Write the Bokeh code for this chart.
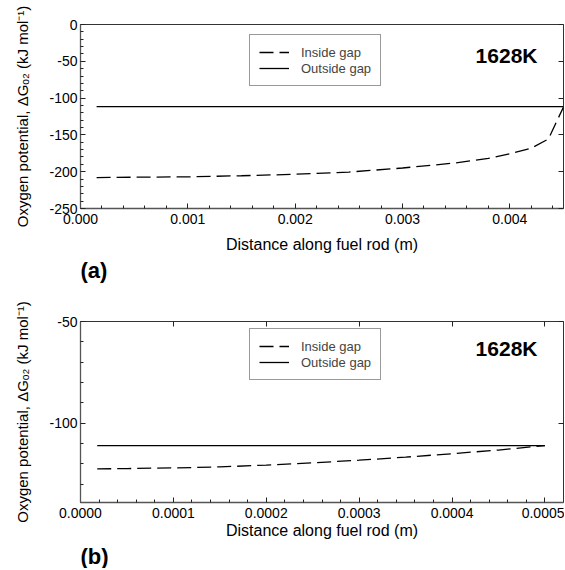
import numpy as np
from bokeh.plotting import figure
from bokeh.models import (Range1d, LinearAxis, FixedTicker, PrintfTickFormatter,
                          Legend, LegendItem, Label, Title)
from bokeh.layouts import column
from bokeh.embed import file_html
from bokeh.resources import INLINE

FONT = "Liberation Sans"

# ---------------- data: panel (a) ----------------
xa_inside = [0.00015, 0.0005, 0.001, 0.0015, 0.002, 0.0025, 0.003, 0.0035,
             0.0038, 0.004, 0.0042, 0.00436, 0.0045]
ya_inside = [-208, -207.5, -207, -205.5, -203.5, -200.5, -195, -188,
             -182, -175.5, -168, -155.5, -112]
xa_outside = [0.00015, 0.0045]
ya_outside = [-111.5, -111.5]
xa_major = [0.0, 0.001, 0.002, 0.003, 0.004]
xa_minor = [0.0002, 0.0004, 0.0006, 0.0008, 0.0012, 0.0014, 0.0016, 0.0018,
            0.0022, 0.0024, 0.0026, 0.0028, 0.0032, 0.0034, 0.0036, 0.0038,
            0.0042, 0.0044]
ya_major = [0, -50, -100, -150, -200, -250]
ya_minor = [-10, -20, -30, -40, -60, -70, -80, -90, -110, -120, -130, -140,
            -160, -170, -180, -190, -210, -220, -230, -240]

# ---------------- data: panel (b) ----------------
xb_inside = [0.000018, 0.00005, 0.0001, 0.00015, 0.0002, 0.00025, 0.0003,
             0.00035, 0.0004, 0.00045, 0.0005]
yb_inside = [-122.5, -122.3, -122.0, -121.5, -120.6, -119.5, -118.2,
             -116.7, -115.0, -113.2, -111.0]
xb_outside = [0.000018, 0.0005]
yb_outside = [-111, -111]
xb_major = [0.0, 0.0001, 0.0002, 0.0003, 0.0004, 0.0005]
xb_minor = [0.00002, 0.00004, 0.00006, 0.00008, 0.00012, 0.00014, 0.00016,
            0.00018, 0.00022, 0.00024, 0.00026, 0.00028, 0.00032, 0.00034,
            0.00036, 0.00038, 0.00042, 0.00044, 0.00046, 0.00048]
yb_major = [-50, -100]
yb_minor = [-60, -70, -80, -90, -110, -120, -130]

series_labels = ["Inside gap", "Outside gap"]
temp_label = "1628K"
x_title = "Distance along fuel rod (m)"
y_title = "Oxygen potential, \u0394G\u2092\u2082 (kJ mol\u207b\u00b9)"

W = 564
BL, BR = 80, 1
FH = 184


def mirror_axis(ticks):
    return LinearAxis(ticker=FixedTicker(ticks=ticks, minor_ticks=[]),
                      major_tick_in=5, major_tick_out=0, minor_tick_in=0,
                      minor_tick_out=0,
                      major_label_overrides={t: "" for t in ticks},
                      major_label_text_color=None,
                      major_label_text_font_size="1px",
                      major_label_standoff=0, axis_line_color=None,
                      major_tick_line_color="#222222")


def make_panel(tag, x0, x1, y0, y1, xin, yin, xout, yout, xmaj, xmin_, ymaj,
               ymin_, xfmt, height, btop, top_ticks, xlab_standoff,
               temp_dy, legend_bottom):
    bbot = height - btop - FH
    p = figure(width=W, height=height, x_range=Range1d(x0, x1),
               y_range=Range1d(y0, y1), output_backend="svg",
               toolbar_location=None, min_border_left=BL,
               min_border_right=BR, min_border_top=btop,
               min_border_bottom=bbot)
    p.xgrid.visible = False
    p.ygrid.visible = False
    p.outline_line_color = "#333333"
    p.outline_line_width = 1
    p.background_fill_color = "white"
    p.border_fill_color = "white"

    fw = W - BL - BR
    dxpp = (x1 - x0) / fw
    dypp = (y1 - y0) / FH

    xa = p.xaxis[0]
    xa.ticker = FixedTicker(ticks=xmaj, minor_ticks=xmin_)
    xa.formatter = PrintfTickFormatter(format=xfmt)
    ya = p.yaxis[0]
    ya.ticker = FixedTicker(ticks=ymaj, minor_ticks=ymin_)
    ya.formatter = PrintfTickFormatter(format="%d")
    for ax in (xa, ya):
        ax.major_tick_in = 5
        ax.major_tick_out = 0
        ax.minor_tick_in = 3
        ax.minor_tick_out = 0
        ax.axis_line_color = "#555555"
        ax.axis_line_width = 1.3
        ax.major_tick_line_color = "#222222"
        ax.minor_tick_line_color = "#222222"
        ax.major_label_text_font = FONT
        ax.major_label_text_font_size = "14px"
        ax.major_label_text_color = "black"
        ax.axis_label_text_font = FONT
        ax.axis_label_text_font_style = "normal"
        ax.axis_label_text_color = "black"
    xa.axis_label_text_font_size = "16px"
    ya.axis_label_text_font_size = "15px"
    xa.major_label_standoff = 5
    ya.major_label_standoff = 3
    xa.axis_label = x_title
    xa.axis_label_standoff = xlab_standoff
    ya.axis_label = y_title
    ya.axis_label_standoff = 15

    p.add_layout(mirror_axis(ymaj), "right")
    if top_ticks:
        p.add_layout(mirror_axis(xmaj), "above")

    r_in = p.line(xin, yin, line_color="black", line_width=1.3,
                  line_dash="14 6")
    r_out = p.line(xout, yout, line_color="black", line_width=1.3)

    legend = Legend(items=[LegendItem(label=series_labels[0], renderers=[r_in]),
                           LegendItem(label=series_labels[1], renderers=[r_out])],
                    location=(169, legend_bottom), margin=0, padding=9,
                    spacing=0, glyph_width=30, glyph_height=16,
                    label_height=16, label_standoff=12,
                    label_text_font=FONT, label_text_font_size="13px",
                    label_text_baseline="middle",
                    border_line_color="#333333", border_line_width=1.2,
                    background_fill_color="white", background_fill_alpha=1)
    p.add_layout(legend, "center")

    p.add_layout(Label(x=x1 - 26 * dxpp, y=y1 - temp_dy * dypp, text=temp_label,
                       text_font=FONT, text_font_size="21px",
                       text_font_style="bold", text_align="right",
                       text_baseline="middle", text_color="black"))
    p.add_layout(Title(text=tag, align="left", text_font=FONT,
                       text_font_size="22px", text_font_style="bold",
                       text_color="black", standoff=0,
                       text_line_height=0.9), "below")
    return p


pa = make_panel("(a)", 0.0, 0.0045, -250, 0, xa_inside, ya_inside,
                xa_outside, ya_outside, xa_major, xa_minor, ya_major, ya_minor,
                "%.3f", 288, 24, False, 9, 31, 122)
pb = make_panel("(b)", 0.0, 0.00052, -139, -50, xb_inside, yb_inside,
                xb_outside, yb_outside, xb_major, xb_minor, yb_major, yb_minor,
                "%.4f", 280, 33, True, 1, 27, 122)

layout = column(pa, pb)
open("out.html", "w").write(file_html(layout, INLINE))
